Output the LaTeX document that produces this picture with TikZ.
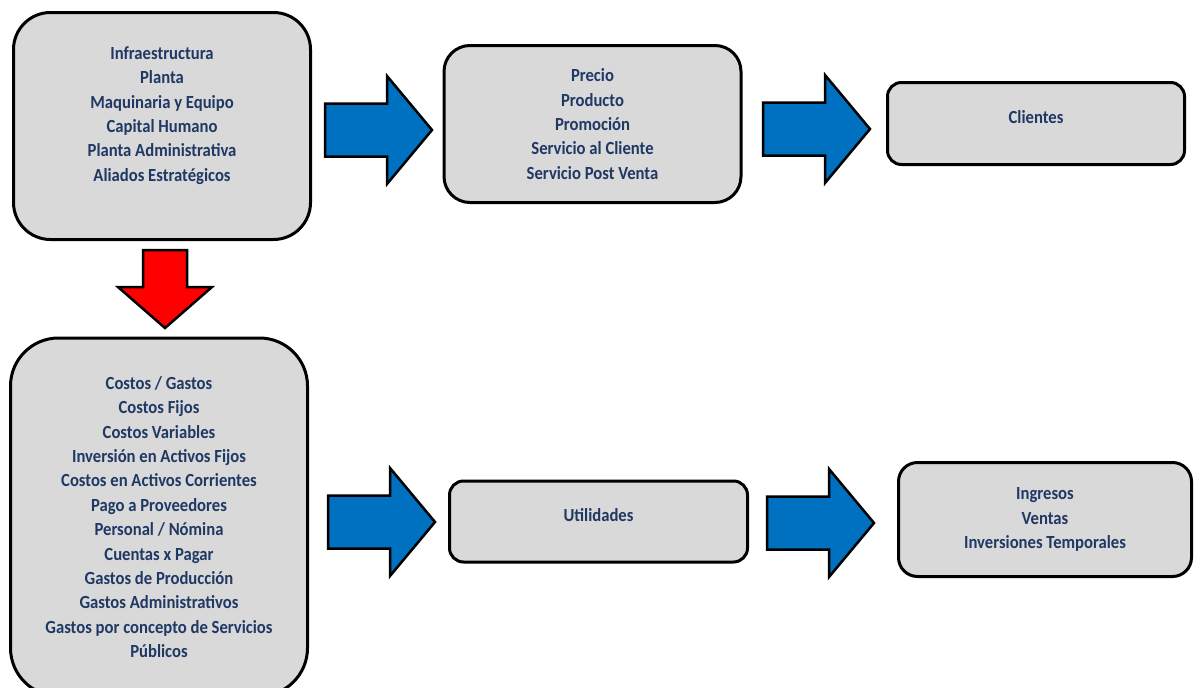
\documentclass[tikz,border=0pt]{standalone}
\usepackage{fontspec}
\setmainfont{Carlito}
\newfontfamily\cajafont[FakeStretch=0.9]{Carlito}
\usepackage{xcolor}
\usepackage{tikz}
\usetikzlibrary{positioning}

\definecolor{gris}{RGB}{217,217,217}
\definecolor{azul}{RGB}{0,112,192}
\definecolor{rojo}{RGB}{255,0,0}
\definecolor{letra}{RGB}{31,56,100}

\tikzset{
  caja/.style={draw, line width=3pt, fill=gris, text=letra, align=center,
    inner sep=0pt, font=\cajafont\bfseries\fontsize{18.5}{24.4}\selectfont},
  flecha/.style={draw, line width=2.5pt, line join=miter},
  flecha der/.pic={
    \path[flecha, fill=azul] (0,-26.5) -- (62,-26.5) -- (62,-54) -- (107,0)
      -- (62,54) -- (62,26.5) -- (0,26.5) -- cycle;
  },
  flecha abajo/.pic={
    \path[flecha, fill=rojo] (-22,0) -- (22,0) -- (22,37) -- (47,37)
      -- (0,78) -- (-47,37) -- (-22,37) -- cycle;
  }
}

\begin{document}
\begin{tikzpicture}[x=1pt, y=-1pt]
        \useasboundingbox (0,0) rectangle (1194,688);

        % fila de arriba
        \node[caja, minimum width=297, minimum height=227, rounded corners=37] (infra) at (162,126)
          {Infraestructura\\Planta\\Maquinaria y Equipo\\Capital Humano\\Planta Administrativa\\Aliados Estratégicos\\ \mbox{}};
        \node[caja, minimum width=297, minimum height=157, rounded corners=26] (mezcla) at (592.5,124)
          {Precio\\Producto\\Promoción\\Servicio al Cliente\\Servicio Post Venta};
        \node[caja, minimum width=297, minimum height=82, rounded corners=14] (clientes) at (1036,123.5)
          {\raisebox{6pt}[\height][\depth]{Clientes}};

        % fila de abajo
        \node[caja, minimum width=297, minimum height=358, rounded corners=48] (costos) at (159,517)
          {Costos / Gastos\\Costos Fijos\\Costos Variables\\Inversión en Activos Fijos\\Costos en Activos Corrientes\\Pago a Proveedores\\Personal / Nómina\\Cuentas x Pagar\\Gastos de Producción\\Gastos Administrativos\\Gastos por concepto de Servicios\\Públicos};
        \node[caja, minimum width=298, minimum height=81, rounded corners=14] (utilidades) at (598.5,521.5)
          {\raisebox{6pt}[\height][\depth]{Utilidades}};
        \node[caja, minimum width=293, minimum height=114, rounded corners=19] (ingresos) at (1045,519.5)
          {Ingresos\\Ventas\\Inversiones Temporales};

        % flechas
        \pic (f1) at (325,130) {flecha der};
        \pic (f2) at (763,129) {flecha der};
        \pic (f3) at (165,250) {flecha abajo};
        \pic (f4) at (328,522) {flecha der};
        \pic (f5) at (767,523) {flecha der};
    \end{tikzpicture}
\end{document}
